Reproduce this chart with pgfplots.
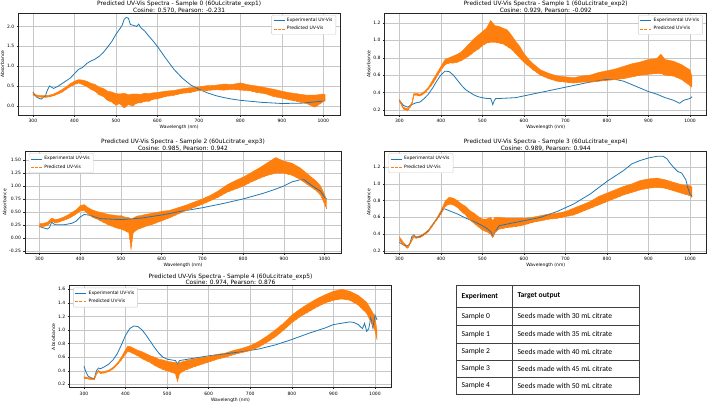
\documentclass[border=0pt]{standalone}
\usepackage{fontspec}
\setmainfont{DejaVu Sans}
\newfontfamily\tabfont{Carlito}
\usepackage{pgfplots}
\usepackage{pgfplotstable}
\pgfplotsset{compat=1.18}
\usepgfplotslibrary{fillbetween}
\definecolor{mblue}{HTML}{1F77B4}
\definecolor{morange}{HTML}{FF7F0E}

% ---------- Experimental spectra ----------
\pgfplotstableread{
x y
300 0.35
305 0.27
310 0.21
320 0.17
330 0.25
335 0.40
340 0.50
345 0.47
350 0.44
360 0.49
370 0.56
380 0.63
390 0.70
400 0.81
410 0.92
420 0.97
430 1.07
440 1.13
450 1.18
460 1.25
470 1.35
480 1.48
490 1.62
500 1.80
510 1.95
515 2.03
520 2.18
525 2.23
530 2.21
535 2.05
545 2.02
550 2.00
555 2.06
560 1.97
570 1.88
580 1.75
590 1.63
600 1.50
620 1.20
640 0.92
660 0.70
680 0.53
700 0.42
720 0.33
740 0.26
760 0.21
780 0.17
800 0.14
850 0.09
900 0.06
950 0.07
1000 0.12
1005 0.13
}\expA
\pgfplotstableread{
x y
300 0.31
310 0.25
320 0.23
330 0.26
340 0.28
350 0.29
360 0.33
370 0.38
380 0.45
390 0.53
400 0.60
410 0.645
420 0.64
430 0.60
440 0.54
450 0.48
460 0.43
470 0.40
480 0.37
490 0.35
500 0.34
510 0.33
520 0.33
523 0.29
525 0.26
528 0.30
532 0.33
540 0.33
560 0.335
580 0.34
600 0.36
640 0.40
680 0.44
720 0.48
760 0.52
800 0.55
820 0.55
840 0.53
860 0.49
880 0.45
900 0.41
920 0.38
940 0.34
960 0.31
975 0.275
985 0.31
1000 0.33
1005 0.35
}\expB
\pgfplotstableread{
x y
300 0.22
310 0.19
320 0.17
325 0.20
330 0.30
335 0.27
340 0.25
360 0.25
380 0.28
390 0.32
400 0.40
410 0.45
420 0.44
430 0.42
440 0.39
450 0.37
500 0.35
550 0.38
600 0.44
640 0.50
700 0.58
750 0.66
800 0.75
850 0.86
880 0.94
900 1.00
920 1.08
940 1.12
950 1.12
960 1.06
970 1.00
980 0.95
990 0.90
1000 0.78
1005 0.75
}\expC
\pgfplotstableread{
x y
300 0.30
310 0.27
320 0.26
325 0.28
330 0.37
335 0.39
340 0.36
350 0.37
360 0.40
370 0.44
380 0.51
390 0.58
400 0.65
405 0.70
410 0.70
420 0.68
440 0.64
460 0.59
480 0.55
500 0.50
510 0.47
520 0.43
525 0.37
530 0.42
540 0.50
560 0.52
580 0.54
600 0.56
640 0.60
680 0.67
720 0.76
760 0.88
800 1.03
840 1.16
860 1.24
880 1.28
900 1.31
920 1.33
935 1.33
945 1.30
950 1.26
960 1.20
970 1.15
980 1.13
990 1.05
995 0.95
1000 0.88
1005 0.85
}\expD
\pgfplotstableread{
x y
300 0.47
305 0.38
310 0.32
320 0.29
325 0.29
330 0.40
335 0.44
340 0.43
350 0.46
360 0.50
370 0.56
380 0.65
390 0.78
400 0.92
410 1.02
420 1.06
430 1.05
440 1.00
450 0.92
460 0.83
470 0.74
480 0.66
490 0.60
500 0.57
510 0.56
520 0.55
525 0.50
530 0.55
540 0.56
560 0.58
580 0.60
600 0.62
640 0.65
680 0.68
720 0.72
760 0.78
800 0.86
840 0.95
880 1.03
900 1.08
920 1.10
940 1.12
950 1.11
960 1.08
970 1.02
975 1.10
980 0.98
985 1.02
990 1.18
995 1.03
1000 1.22
1005 1.15
}\expE

% ---------- Predicted spectra (noise band: lower / upper envelope) ----------
\pgfplotstableread{
x lo hi
300 0.28 0.32
310 0.23 0.27
320 0.22 0.26
330 0.22 0.26
340 0.23 0.27
350 0.26 0.30
360 0.30 0.35
370 0.35 0.41
380 0.42 0.48
390 0.49 0.56
400 0.54 0.62
410 0.58 0.66
420 0.54 0.65
430 0.49 0.62
440 0.42 0.57
450 0.37 0.54
460 0.28 0.47
470 0.24 0.44
480 0.14 0.37
490 0.10 0.35
500 0.02 0.31
510 0.06 0.30
520 -0.05 0.32
530 0.04 0.28
540 0.00 0.30
550 0.07 0.30
560 0.08 0.29
570 0.12 0.32
580 0.12 0.31
590 0.17 0.33
600 0.18 0.34
620 0.24 0.37
640 0.27 0.39
660 0.32 0.43
680 0.34 0.46
700 0.39 0.48
720 0.39 0.51
740 0.41 0.52
760 0.40 0.55
780 0.42 0.54
800 0.40 0.58
820 0.39 0.53
840 0.34 0.50
860 0.31 0.46
880 0.24 0.42
900 0.20 0.37
920 0.15 0.33
940 0.11 0.30
960 0.06 0.27
980 -0.03 0.27
1000 0.11 0.30
1005 0.16 0.28
}\predA
\pgfplotstableread{
x lo hi
300 0.30 0.32
310 0.21 0.23
320 0.19 0.21
330 0.26 0.28
335 0.37 0.39
340 0.37 0.39
350 0.36 0.38
360 0.39 0.41
370 0.44 0.46
380 0.50 0.54
390 0.58 0.62
400 0.66 0.70
410 0.72 0.78
420 0.74 0.80
430 0.74 0.82
440 0.75 0.84
450 0.77 0.87
460 0.80 0.92
470 0.83 0.97
480 0.87 1.02
490 0.90 1.06
500 0.94 1.10
510 0.97 1.14
520 0.98 1.23
530 0.98 1.17
540 0.97 1.16
550 0.96 1.14
560 0.93 1.12
570 0.90 1.06
580 0.85 0.99
590 0.80 0.93
600 0.75 0.85
610 0.71 0.79
620 0.67 0.74
640 0.60 0.66
660 0.56 0.62
680 0.53 0.59
700 0.52 0.58
720 0.51 0.57
740 0.52 0.59
760 0.52 0.60
780 0.53 0.63
800 0.54 0.65
820 0.55 0.67
840 0.56 0.70
860 0.58 0.73
880 0.60 0.75
900 0.61 0.78
920 0.62 0.79
930 0.62 0.84
940 0.60 0.78
960 0.59 0.76
980 0.55 0.72
1000 0.48 0.66
1005 0.46 0.58
}\predB
\pgfplotstableread{
x lo hi
300 0.21 0.27
310 0.22 0.28
320 0.24 0.30
330 0.32 0.38
340 0.29 0.35
350 0.31 0.37
360 0.34 0.40
370 0.37 0.44
380 0.41 0.49
390 0.46 0.54
400 0.52 0.62
410 0.53 0.64
420 0.46 0.58
430 0.40 0.54
440 0.37 0.51
450 0.33 0.49
460 0.29 0.47
470 0.25 0.45
480 0.22 0.44
490 0.19 0.43
500 0.17 0.43
510 0.14 0.40
520 0.10 0.39
525 -0.20 0.36
530 0.10 0.38
540 0.16 0.42
550 0.19 0.43
560 0.22 0.45
580 0.27 0.48
600 0.33 0.51
620 0.39 0.53
640 0.46 0.58
660 0.53 0.63
680 0.59 0.69
700 0.65 0.75
720 0.72 0.82
740 0.79 0.91
760 0.88 1.02
780 0.94 1.10
800 1.00 1.17
820 1.08 1.26
840 1.15 1.35
860 1.21 1.45
880 1.25 1.55
900 1.25 1.48
920 1.21 1.44
940 1.13 1.35
960 1.02 1.22
980 0.91 1.09
990 0.83 1.00
1000 0.66 0.84
1005 0.56 0.70
}\predC
\pgfplotstableread{
x lo hi
300 0.33 0.37
310 0.27 0.30
320 0.23 0.25
330 0.32 0.34
335 0.37 0.39
340 0.35 0.37
350 0.36 0.38
360 0.39 0.41
370 0.43 0.45
380 0.50 0.52
390 0.57 0.59
400 0.64 0.68
410 0.73 0.79
420 0.76 0.84
430 0.75 0.83
440 0.72 0.80
450 0.67 0.76
460 0.63 0.73
470 0.57 0.68
480 0.53 0.65
490 0.49 0.61
500 0.45 0.58
510 0.43 0.58
520 0.40 0.60
525 0.36 0.56
530 0.42 0.60
540 0.46 0.60
560 0.48 0.59
580 0.49 0.59
600 0.51 0.59
620 0.54 0.60
640 0.56 0.62
660 0.58 0.64
680 0.59 0.65
700 0.61 0.67
720 0.63 0.71
740 0.67 0.75
760 0.71 0.79
780 0.75 0.85
800 0.79 0.89
820 0.83 0.93
840 0.87 0.97
860 0.90 1.00
880 0.93 1.04
900 0.95 1.06
920 0.96 1.07
940 0.95 1.05
960 0.92 1.02
980 0.89 0.99
1000 0.86 0.98
1005 0.84 0.96
}\predD
\pgfplotstableread{
x lo hi
300 0.29 0.31
310 0.28 0.30
320 0.27 0.29
325 0.27 0.29
330 0.35 0.37
335 0.39 0.41
340 0.36 0.38
350 0.37 0.39
360 0.39 0.41
370 0.43 0.45
380 0.49 0.51
390 0.56 0.60
400 0.65 0.71
405 0.68 0.76
410 0.68 0.76
420 0.65 0.73
430 0.62 0.70
440 0.58 0.68
450 0.55 0.65
460 0.52 0.62
470 0.48 0.60
480 0.45 0.57
490 0.42 0.56
500 0.40 0.54
510 0.38 0.53
520 0.36 0.52
525 0.25 0.50
530 0.36 0.52
540 0.40 0.54
560 0.45 0.57
580 0.49 0.59
600 0.53 0.61
620 0.57 0.64
640 0.60 0.66
660 0.64 0.70
680 0.67 0.73
700 0.70 0.77
720 0.75 0.83
740 0.82 0.91
760 0.90 1.00
780 1.00 1.10
800 1.11 1.22
820 1.20 1.31
840 1.27 1.39
860 1.34 1.46
880 1.40 1.52
900 1.44 1.57
920 1.46 1.60
940 1.44 1.57
960 1.37 1.51
980 1.25 1.41
1000 1.00 1.20
1005 0.86 0.98
}\predE

\newcommand{\smallfont}{\fontsize{4.5}{5.2}\selectfont}
\pgfplotsset{
  uv/.style={
    scale only axis, anchor=south west,
    height=102pt,
    xmin=264.75, xmax=1040.25,
    xtick={300,400,500,600,700,800,900,1000},
    grid=major, grid style={black!22, line width=0.4pt},
    axis line style={black!85, line width=0.5pt},
    tick style={black!85, line width=0.4pt},
    tick align=outside, major tick length=1.6pt,
    xtick pos=lower, ytick pos=lower,
    ticklabel style={font=\smallfont},
    /pgf/number format/assume math mode=true,
    /pgf/number format/1000 sep={},
    xticklabel style={yshift=1pt},
    yticklabel style={xshift=1pt},
    xlabel={Wavelength (nm)}, ylabel={Absorbance},
    label style={font=\smallfont},
    xlabel style={yshift=4.5pt}, ylabel style={yshift=-4pt},
    every axis title shift=0pt,
    title style={font=\fontsize{5.9}{6.6}\selectfont, align=center, yshift=-3.5pt},
    legend style={font=\smallfont, draw=black!20, rounded corners=1pt,
      fill=white, inner xsep=1.5pt, inner ysep=1pt, row sep=-0.6pt},
    legend cell align=left,
    legend image code/.code={\draw[##1] (0pt,0pt) -- (11pt,0pt);},
  },
  legNE/.style={legend style={at={(0.988,0.98)}, anchor=north east}},
  legNW/.style={legend style={at={(0.012,0.98)}, anchor=north west}},
  fmt1/.style={yticklabel style={/pgf/number format/.cd, fixed, fixed zerofill, precision=1}},
  fmt2/.style={yticklabel style={/pgf/number format/.cd, fixed, fixed zerofill, precision=2}},
}

% draw one panel's curves: #1 experimental table, #2 predicted table, #3 unique id
\newcommand{\curves}[3]{%
  \addplot[draw=mblue, line width=0.8pt] table[x=x,y=y]{#1};
  \addlegendentry{Experimental UV-Vis}
  \addplot[name path=lo#3, draw=morange, line width=0.4pt, forget plot] table[x=x,y=lo]{#2};
  \addplot[name path=hi#3, draw=morange, line width=0.4pt, forget plot] table[x=x,y=hi]{#2};
  \addplot[fill=morange, draw=none, forget plot] fill between[of=lo#3 and hi#3];
  \addplot[draw=morange, line width=0.8pt, dash pattern=on 3pt off 1.2pt] table[x=x,y=lo]{#2};
  \addlegendentry{Predicted UV-Vis}
}

\begin{document}
\begin{tikzpicture}

% Sample 0
\begin{axis}[uv, legNE, fmt1, at={(18.3pt,287pt)}, width=321.7pt,
  ymin=-0.23, ymax=2.34, ytick={0,0.5,1.0,1.5,2.0},
  title={Predicted UV-Vis Spectra - Sample 0 (60uLcitrate\_exp1)\\Cosine: 0.570, Pearson: -0.231}]
\curves{\expA}{\predA}{A}
\end{axis}

% Sample 1
\begin{axis}[uv, legNE, fmt1, at={(384.7pt,287pt)}, width=322pt,
  ymin=0.14, ymax=1.315, ytick={0.2,0.4,0.6,0.8,1.0,1.2},
  title={Predicted UV-Vis Spectra - Sample 1 (60uLcitrate\_exp2)\\Cosine: 0.929, Pearson: -0.092}]
\curves{\expB}{\predB}{B}
\end{axis}

% Sample 2
\begin{axis}[uv, legNW, fmt2, at={(25pt,148.7pt)}, width=316pt,
  ymin=-0.30, ymax=1.67, ytick={-0.25,0,0.25,0.5,0.75,1.0,1.25,1.5},
  title={Predicted UV-Vis Spectra - Sample 2 (60uLcitrate\_exp3)\\Cosine: 0.985, Pearson: 0.942}]
\curves{\expC}{\predC}{C}
\end{axis}

% Sample 3
\begin{axis}[uv, legNW, fmt1, at={(384.7pt,148.7pt)}, width=322pt,
  ymin=0.17, ymax=1.39, ytick={0.2,0.4,0.6,0.8,1.0,1.2},
  title={Predicted UV-Vis Spectra - Sample 3 (60uLcitrate\_exp4)\\Cosine: 0.989, Pearson: 0.944}]
\curves{\expD}{\predD}{D}
\end{axis}

% Sample 4
\begin{axis}[uv, legNW, fmt1, at={(69.3pt,14.3pt)}, width=322.4pt,
  ymin=0.15, ymax=1.653, ytick={0.2,0.4,0.6,0.8,1.0,1.2,1.4,1.6},
  title={Predicted UV-Vis Spectra - Sample 4 (60uLcitrate\_exp5)\\Cosine: 0.974, Pearson: 0.876}]
\curves{\expE}{\predE}{E}
\end{axis}

% Table
\begin{scope}[x=1pt,y=1pt]
\draw[black!75, line width=0.7pt] (456,117) rectangle (639,8);
\draw[black!75, line width=0.7pt] (512,117) -- (512,8);
\foreach \yy in {95,77,59,42,25} {\draw[black!75, line width=0.7pt] (456,\yy) -- (639,\yy);}
\begin{scope}[every node/.style={anchor=west, inner sep=0pt, font=\tabfont\fontsize{7.6}{9}\selectfont}]
\node at (461.5,106) {\bfseries Experiment};
\node at (517.3,106) {\bfseries Target output};
\node at (461.5,86) {Sample 0};
\node at (517.3,86) {Seeds made with 30 mL citrate};
\node at (461.5,68) {Sample 1};
\node at (517.3,68) {Seeds made with 35 mL citrate};
\node at (461.5,50.5) {Sample 2};
\node at (517.3,50.5) {Seeds made with 40 mL citrate};
\node at (461.5,33.5) {Sample 3};
\node at (517.3,33.5) {Seeds made with 45 mL citrate};
\node at (461.5,16.5) {Sample 4};
\node at (517.3,16.5) {Seeds made with 50 mL citrate};
\end{scope}
\pgfresetboundingbox
\useasboundingbox (0,0) rectangle (708,402);
\end{scope}
\end{tikzpicture}
\end{document}
